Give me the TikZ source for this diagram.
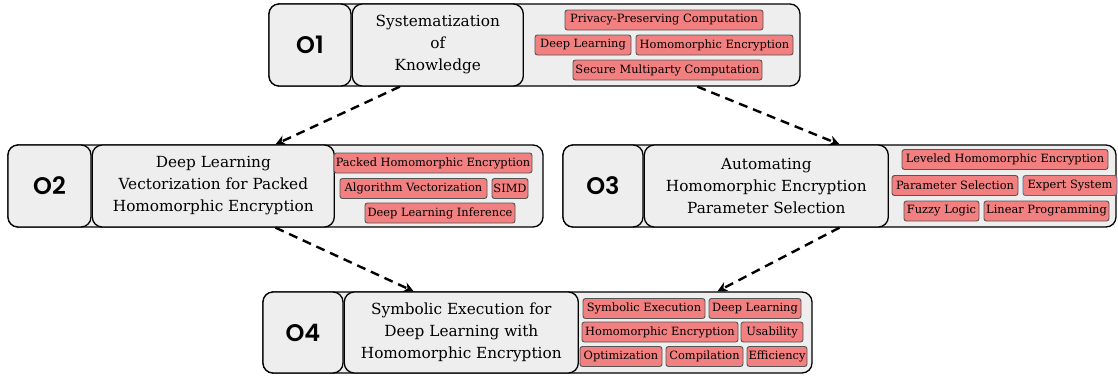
\documentclass[tikz,border=0pt]{standalone}
\usepackage{fontspec}
\setmainfont{DejaVu Serif}
\newfontfamily\numfont{Poppins}[UprightFont=* SemiBold]
\usetikzlibrary{calc,arrows.meta}
\definecolor{panel}{HTML}{EEEEEE}
\definecolor{tagred}{HTML}{F28080}
\definecolor{tagedge}{HTML}{555555}
\definecolor{tagblue}{HTML}{4A6FA5}
\tikzset{
  panelbox/.style={draw=black, line width=1.3pt, fill=panel, rounded corners=10pt, inner sep=0pt},
  numbox/.style={panelbox, anchor=west, font=\numfont\fontsize{24}{24}\selectfont},
  titlebox/.style={panelbox, anchor=west, align=center, font=\fontsize{15.3}{22}\selectfont},
  tag/.style={draw=tagedge, line width=0.9pt, fill=tagred, rounded corners=2.5pt,
              inner sep=0pt, minimum height=20pt, minimum width=#1,
              font=\fontsize{11.4}{13}\selectfont},
  bluetag/.style={tag=#1, draw=tagblue},
  link/.style={line width=2.4pt, dash pattern=on 9pt off 6pt, -{Stealth[length=10pt,width=10pt]}},
}
\begin{document}
\begin{tikzpicture}[x=1pt,y=-1pt]
\useasboundingbox (0,0) rectangle (1118,376);

% Objective 1
\node[panelbox, minimum width=531, minimum height=82] (p1) at (534.5,45) {};
\node[numbox, minimum width=82, minimum height=82] (n1) at (p1.west) {O1};
\node[titlebox, minimum width=171, minimum height=82] (t1) at (n1.east) {Systematization\\of\\Knowledge};
\node[tag=198] (g1a) at (664,20) {Privacy-Preserving Computation};
\node[tag=96] (g1b) at (583,45) {Deep Learning};
\node[tag=157] (g1c) at (714.5,45) {Homomorphic Encryption};
\node[tag=189] (g1d) at (667.5,70) {Secure Multiparty Computation};

% Objective 2
\node[panelbox, minimum width=535, minimum height=82] (p2) at (275.5,186) {};
\node[numbox, minimum width=83, minimum height=82] (n2) at (p2.west) {O2};
\node[titlebox, minimum width=242, minimum height=82] (t2) at (n2.east) {Deep Learning\\Vectorization for Packed\\Homomorphic Encryption};
\node[tag=198] (g2a) at (433,163) {Packed Homomorphic Encryption};
\node[tag=147] (g2b) at (413.5,188.5) {Algorithm Vectorization};
\node[tag=36] (g2c) at (510,188.5) {SIMD};
\node[tag=150] (g2d) at (440,213) {Deep Learning Inference};

% Objective 3
\node[panelbox, minimum width=553, minimum height=82] (p3) at (839.5,186) {};
\node[numbox, minimum width=80, minimum height=82] (n3) at (p3.west) {O3};
\node[titlebox, minimum width=244, minimum height=82] (t3) at (n3.east) {Automating\\Homomorphic Encryption\\Parameter Selection};
\node[tag=206] (g3a) at (1005,159.5) {Leveled Homomorphic Encryption};
\node[tag=126] (g3b) at (955,185.5) {Parameter Selection};
\node[bluetag=94] (g3c) at (1070,185.5) {Expert System};
\node[tag=75] (g3d) at (941.5,211) {Fuzzy Logic};
\node[tag=125] (g3e) at (1046.5,211) {Linear Programming};

% Objective 4
\node[panelbox, minimum width=549, minimum height=81] (p4) at (537.5,332.5) {};
\node[numbox, minimum width=80, minimum height=81] (n4) at (p4.west) {O4};
\node[titlebox, minimum width=234, minimum height=81] (t4) at (n4.east) {Symbolic Execution for\\Deep Learning with\\Homomorphic Encryption};
\node[tag=122] (g4a) at (644,308.5) {Symbolic Execution};
\node[tag=92] (g4b) at (755,308.5) {Deep Learning};
\node[tag=156] (g4c) at (660,332) {Homomorphic Encryption};
\node[tag=62] (g4d) at (772,332) {Usability};
\node[tag=82] (g4e) at (621,356.5) {Optimization};
\node[tag=77] (g4f) at (704.5,356.5) {Compilation};
\node[tag=60] (g4g) at (777,356.5) {Efficiency};

% Dependencies between objectives
\draw[link] ($(p1.south west)!0.247!(p1.south east)$) -- (p2.north);
\draw[link] ($(p1.south west)!0.806!(p1.south east)$) -- (p3.north);
\draw[link] (p2.south) -- ($(p4.north west)!0.275!(p4.north east)$);
\draw[link] (p3.south) -- ($(p4.north west)!0.827!(p4.north east)$);
\end{tikzpicture}
\end{document}
